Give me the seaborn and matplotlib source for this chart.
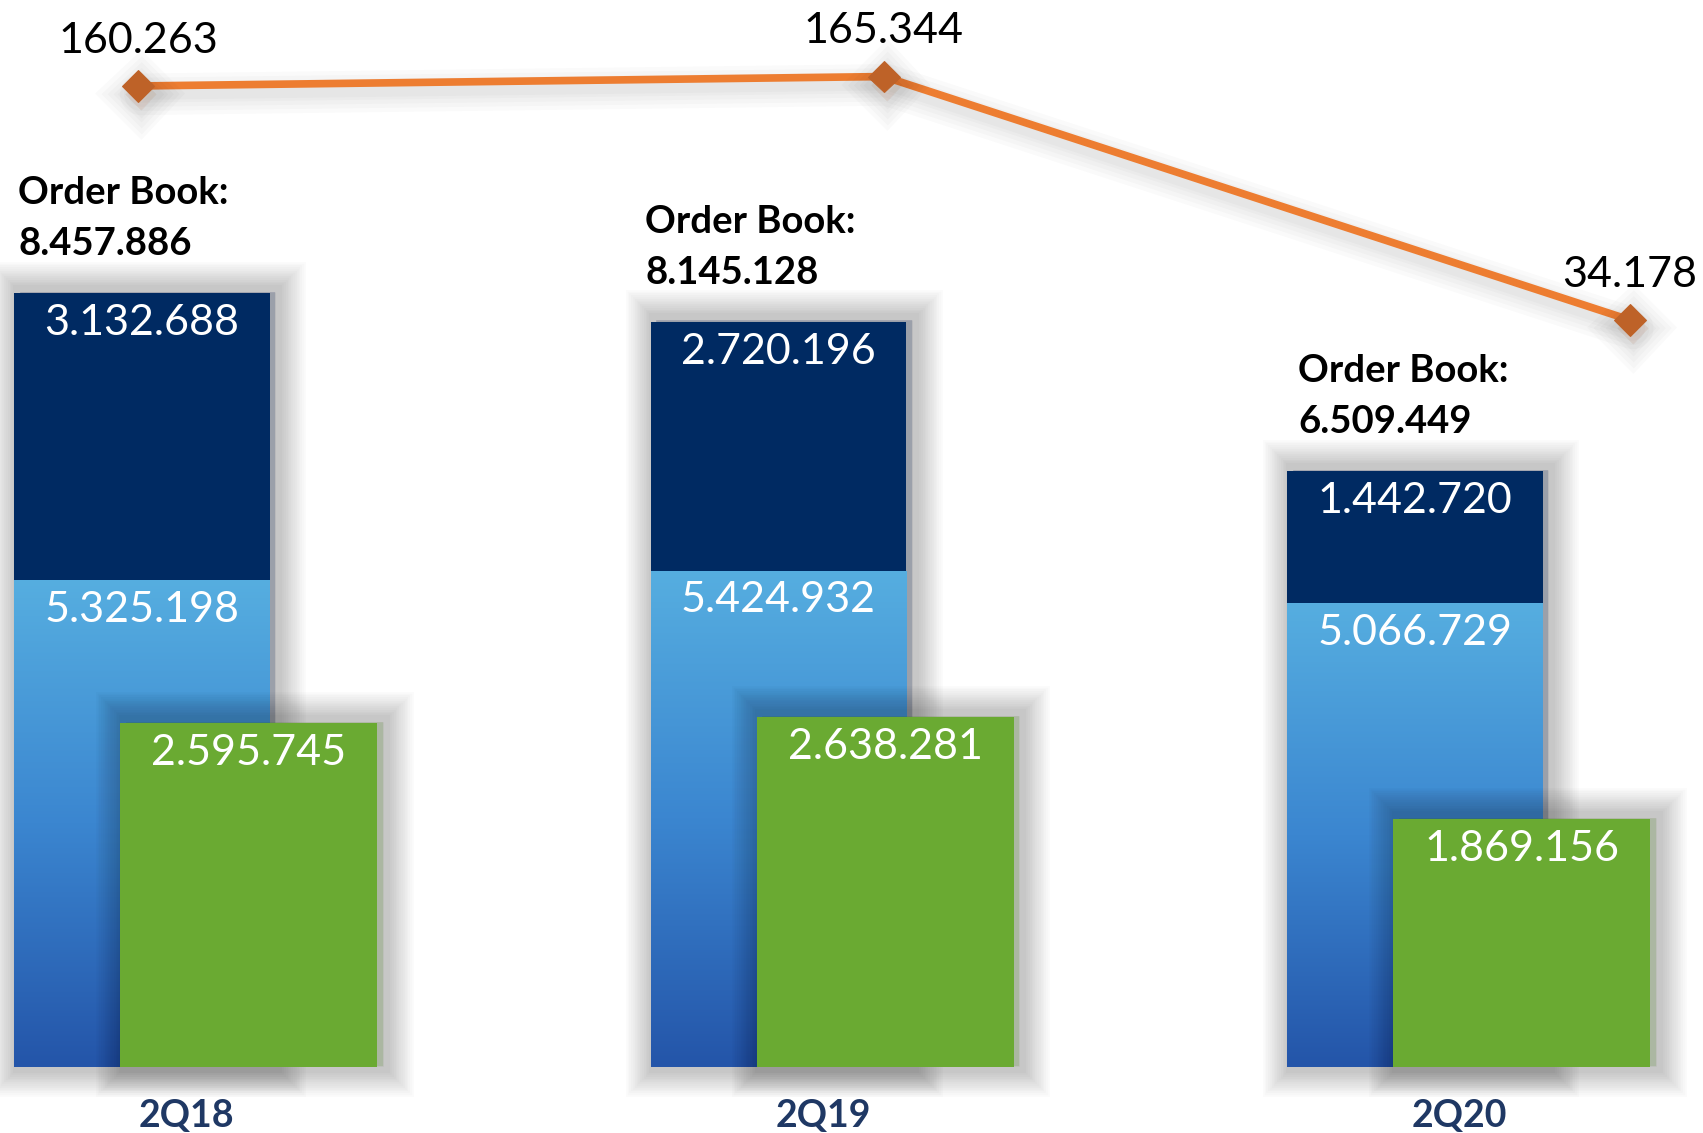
import matplotlib
matplotlib.use("Agg")
import matplotlib.pyplot as plt
import matplotlib.patheffects as pe
import numpy as np
import seaborn as sns
from matplotlib.colors import LinearSegmentedColormap

quarters = ["2Q18", "2Q19", "2Q20"]
backlog_top = [3132688, 2720196, 1442720]      # dark navy segment
backlog_base = [5325198, 5424932, 5066729]     # light blue segment
order_book = [8457886, 8145128, 6509449]
green_vals = [2595745, 2638281, 1869156]
line_vals = [160263, 165344, 34178]

def fmt(v):
    return f"{v:,}".replace(",", ".")

sns.set_style("white")
plt.rcParams["font.family"] = ["Lato", "DejaVu Sans"]

NAVY = "#002A62"
GREEN = "#6AAA32"
ORANGE = "#ED7D31"
MARKER = "#BE6228"
LABEL = "#1F3864"

fig = plt.figure(figsize=(17.03, 11.33), dpi=100)
ax = fig.add_axes([0, 0, 1, 1])
ax_g = fig.add_axes([0, 0, 1, 1])
ax_l = fig.add_axes([0, 0, 1, 1])

def soft_shadow(dx=4, dy=1, n=14, alpha=0.015):
    fx = [pe.Stroke(offset=(dx, dy), linewidth=w, foreground="black", alpha=alpha)
          for w in np.linspace(44, 10, n)]
    return fx + [pe.Normal()]

# stacked bars: full height in navy, lower part drawn on top
sns.barplot(x=quarters, y=order_book, color=NAVY, saturation=1, width=0.402,
            errorbar=None, ax=ax)
sns.barplot(x=quarters, y=backlog_base, color="#3D8AD3", saturation=1, width=0.402,
            errorbar=None, ax=ax)
navy_bars = ax.patches[:3]
light_bars = ax.patches[3:]
for b in navy_bars:
    b.set_path_effects(soft_shadow())
    b.set_linewidth(0)
grad = LinearSegmentedColormap.from_list("g", ["#2455A9", "#3B86D0", "#56AEE0"])
for b in light_bars:
    b.set_linewidth(0)
    x0, w, h = b.get_x(), b.get_width(), b.get_height()
    img = np.linspace(1, 0, 256).reshape(-1, 1)
    im = ax.imshow(img, cmap=grad, aspect="auto", extent=[x0, x0 + w, 0, h],
                   origin="upper", zorder=b.get_zorder() + 0.1, interpolation="bilinear")
    im.set_clip_path(b)

ax.set_xlim(-0.2231, 2.4525)
ax.set_ylim(-721300, 11661000)
ax.axis("off")

nudge = [3, -4, 8]  # label shift from bar edge, points
for i in range(3):
    ax.annotate(fmt(backlog_top[i]), xy=(i, order_book[i]), xytext=(0, -21.5),
                textcoords="offset points", ha="center", va="center",
                color="white", fontsize=31, zorder=5)
    ax.annotate(fmt(backlog_base[i]), xy=(i, backlog_base[i]), xytext=(0, -21.5),
                textcoords="offset points", ha="center", va="center",
                color="white", fontsize=31, zorder=5)
    left = navy_bars[i].get_x()
    ax.annotate("Order Book:", xy=(left, order_book[i]), xytext=(nudge[i], 64),
                textcoords="offset points", ha="left", va="baseline",
                fontsize=27.5, fontweight="bold", color="black")
    ax.annotate(fmt(order_book[i]), xy=(left, order_book[i]), xytext=(nudge[i], 27.4),
                textcoords="offset points", ha="left", va="baseline",
                fontsize=27.5, fontweight="bold", color="black")
    ax.annotate(quarters[i], xy=(i, 0), xytext=(32, -35),
                textcoords="offset points", ha="center", va="center",
                fontsize=27, fontweight="bold", color=LABEL)

# green bars on their own scale
sns.barplot(x=quarters, y=green_vals, color=GREEN, saturation=1, width=0.4036,
            errorbar=None, ax=ax_g)
for b in ax_g.patches:
    b.set_linewidth(0)
    b.set_path_effects(soft_shadow())
ax_g.set_xlim(-0.3903, 2.2843)
ax_g.set_ylim(-498000, 8053000)
ax_g.axis("off")
ax_g.patch.set_alpha(0)
for i in range(3):
    ax_g.annotate(fmt(green_vals[i]), xy=(i, green_vals[i]), xytext=(0, -21.5),
                  textcoords="offset points", ha="center", va="center",
                  color="white", fontsize=31, zorder=5)

# line series
line_fx = [pe.Stroke(offset=(2, -6), linewidth=w, foreground="black", alpha=0.02)
           for w in (30, 24, 18, 12, 8)] + [pe.Normal()]
sns.lineplot(x=[0, 1, 2], y=line_vals, ax=ax_l, color=ORANGE, linewidth=5.5,
             marker="D", markersize=16, markerfacecolor=MARKER,
             markeredgecolor=MARKER, path_effects=line_fx)
ax_l.set_xlim(-0.185, 2.098)
ax_l.set_ylim(-403861, 206592)
ax_l.axis("off")
ax_l.patch.set_alpha(0)
for i in range(3):
    ax_l.annotate(fmt(line_vals[i]), xy=(i, line_vals[i]), xytext=(0, 24),
                  textcoords="offset points", ha="center", va="baseline",
                  fontsize=31, color="black")

fig.savefig("out.png", dpi=100)
